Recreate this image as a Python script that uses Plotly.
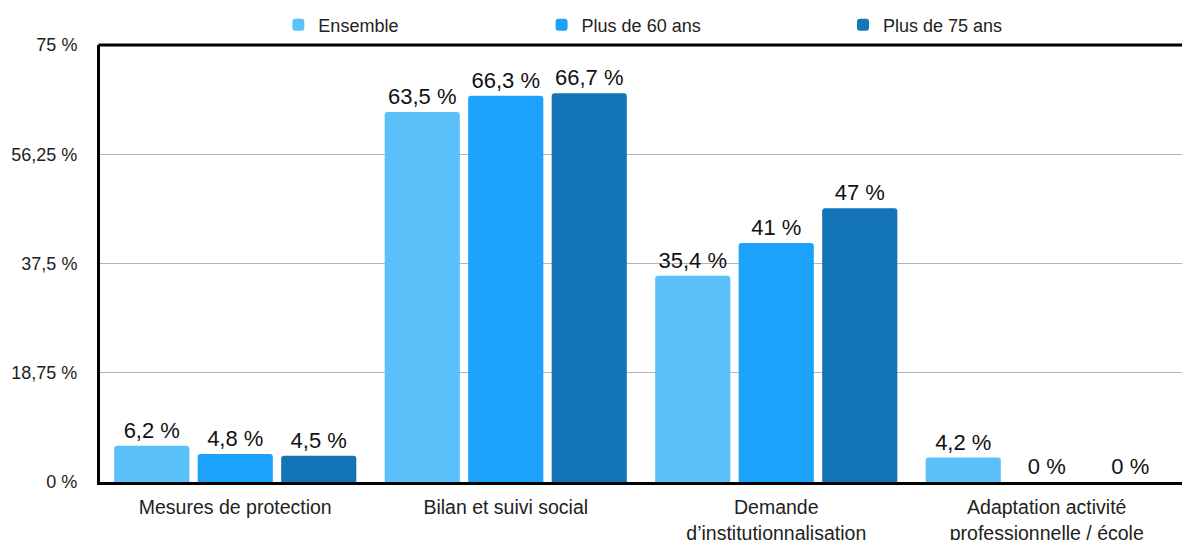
import plotly.graph_objects as go

categories = ["Mesures de protection", "Bilan et suivi social",
              "Demande<br>d’institutionnalisation",
              "Adaptation activité<br>professionnelle / école"]
series_names = ["Ensemble", "Plus de 60 ans", "Plus de 75 ans"]
ensemble = [6.2, 63.5, 35.4, 4.2]
plus60 = [4.8, 66.3, 41, 0]
plus75 = [4.5, 66.7, 47, 0]
tick_vals = [0, 18.75, 37.5, 56.25, 75]
tick_text = ["0 %", "18,75 %", "37,5 %", "56,25 %", "75 %"]

colors = ["#5AC1FA", "#1CA2FA", "#1474B8"]
legend_x = [0.2355, 0.4582, 0.7132]


def fmt(v):
    return f"{v:g}".replace(".", ",") + " %"


FONT = "Liberation Sans, Arial, Helvetica, sans-serif"

fig = go.Figure()
for i, (name, vals) in enumerate(zip(series_names, [ensemble, plus60, plus75])):
    lg = "legend" if i == 0 else f"legend{i+1}"
    fig.add_trace(go.Bar(
        x=categories, y=vals, name=name,
        marker=dict(color=colors[i], cornerradius=3, line=dict(width=0)),
        text=[fmt(v) for v in vals], textposition="outside",
        textfont=dict(size=22, color="#111", family=FONT),
        cliponaxis=False, legend=lg,
        hovertemplate="%{x}: %{text}<extra>" + name + "</extra>",
    ))

legend_common = dict(orientation="h", xanchor="left", yanchor="middle",
                     xref="container", yref="container",
                     y=1 - 25 / 540, font=dict(size=18, color="#222", family=FONT),
                     bgcolor="rgba(0,0,0,0)")
fig.update_layout(
    legend=dict(x=legend_x[0], **legend_common),
    legend2=dict(x=legend_x[1], **legend_common),
    legend3=dict(x=legend_x[2], **legend_common),
)

fig.update_layout(
    width=1182, height=540,
    margin=dict(l=100, r=0, t=45, b=58, autoexpand=False),
    paper_bgcolor="white", plot_bgcolor="white",
    barmode="group", bargap=0.074, bargroupgap=0.1,
    font=dict(family=FONT, color="#222"),
    showlegend=True,
    xaxis=dict(showline=True, linecolor="black", linewidth=3,
               tickfont=dict(size=19.5, color="#222"), ticks="",
               ticklabelstandoff=6, showgrid=False, automargin=False),
    yaxis=dict(range=[0, 75], tickvals=tick_vals, ticktext=tick_text,
               showline=True, linecolor="black", linewidth=3,
               showgrid=True, gridcolor="#b5b5b5", gridwidth=1,
               tickfont=dict(size=18, color="#222"), ticks="",
               ticklabelstandoff=16, zeroline=False, automargin=False),
    shapes=[dict(type="line", xref="paper", yref="paper", x0=-0.0014, x1=1,
                 y0=1, y1=1, line=dict(color="black", width=3))],
)

fig.write_html("out.html", config={"displayModeBar": False},
               post_script="document.body.style.margin='0';document.body.style.overflow='hidden';")
